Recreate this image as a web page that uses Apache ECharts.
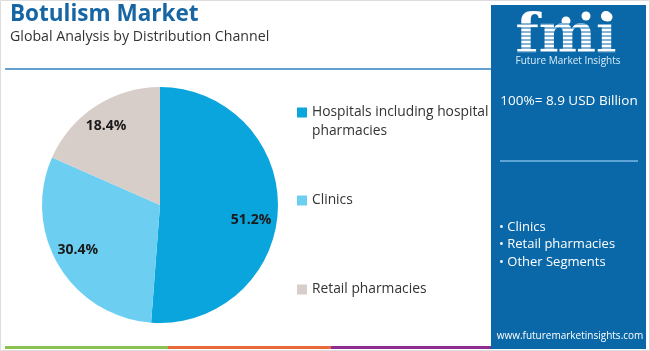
<!DOCTYPE html>
<html><head><meta charset="utf-8">
<script src="https://cdn.jsdelivr.net/npm/echarts@6/dist/echarts.min.js"></script>
<style>html,body{margin:0;padding:0;background:#fff}#c{width:650px;height:351px}</style>
</head><body><div id="c"></div>
<script>
var categories = ['Hospitals including hospital\npharmacies', 'Clinics', 'Retail pharmacies'];
var values = [51.2, 30.4, 18.4];
var colors = ['#0ba5dd', '#6ccff2', '#d7cdc9'];
var panelBullets = ['• Clinics', '• Retail pharmacies', '• Other Segments'];
var totalText = '100%= 8.9 USD Billion';

var labelOffsets = [[29, 13], [-29, 13], [-20, -27]];
var legendTops = [98, 186, 275];
var chart = echarts.init(document.getElementById('c'));
var graphics = [
  {type:'rect', shape:{x:0.5,y:0.5,width:649,height:350}, style:{fill:'none', stroke:'#dddddd', lineWidth:1}, silent:true},
  {type:'text', left:10, top:3, style:{text:'Botulism Market', font:'bold 22.5px "Open Sans", sans-serif', fill:'#1766a3'}},
  {type:'text', left:10, top:30, style:{text:'Global Analysis by Distribution Channel', font:'14.2px "Open Sans", sans-serif', fill:'#333333'}},
  {type:'line', shape:{x1:5,y1:69,x2:491,y2:69}, style:{stroke:'#2f7fbf', lineWidth:1.5}},
  {type:'rect', shape:{x:5,y:346,width:163,height:3}, style:{fill:'#8cc152'}},
  {type:'rect', shape:{x:168,y:346,width:163,height:3}, style:{fill:'#ea6a3b'}},
  {type:'rect', shape:{x:331,y:346,width:163,height:3}, style:{fill:'#8e2d8f'}},
  {type:'rect', shape:{x:491,y:5,width:155,height:344}, style:{fill:'#0b68a8'}},
  {type:'text', x:566, y:38, style:{text:'fmi', font:'bold 54px "DejaVu Serif", serif', fill:'#ffffff', align:'center', verticalAlign:'middle'}},
  {type:'circle', shape:{cx:566,cy:21,r:4.5}, style:{fill:'#ffffff'}},
  {type:'circle', shape:{cx:586,cy:16,r:4.5}, style:{fill:'#ffffff'}},
  {type:'circle', shape:{cx:608,cy:17,r:4.5}, style:{fill:'#ffffff'}},
  {type:'text', x:568, y:61, style:{text:'Future Market Insights', font:'10px "Open Sans", sans-serif', fill:'#d8ecf8', align:'center', verticalAlign:'middle'}},
  {type:'text', x:569, y:101.5, style:{text:totalText, font:'13.5px "Open Sans", sans-serif', fill:'#ffffff', align:'center', verticalAlign:'middle'}},
  {type:'line', shape:{x1:500,y1:161,x2:638,y2:161}, style:{stroke:'#7db9e6', lineWidth:1.5}},
  {type:'text', x:570, y:336, style:{text:'www.futuremarketinsights.com', font:'10px "Open Sans", sans-serif', fill:'#ffffff', align:'center', verticalAlign:'middle'}}
];
for (var sy = 24; sy < 56; sy += 4) {
  graphics.push({type:'line', shape:{x1:505,y1:sy,x2:630,y2:sy}, style:{stroke:'#0b68a8', lineWidth:1}});
}
panelBullets.forEach(function(t, i){
  graphics.push({type:'text', x:499, y:227 + i*17.5, style:{text:t, font:'13px "Open Sans", sans-serif', fill:'#ffffff', verticalAlign:'middle'}});
});
var topIcon = 'path://M0,0L10,0L10,10L0,10Z M0,29L0.01,29L0,29Z';
var legends = categories.map(function(n, i){
  return {
    orient:'vertical', left:292, top:legendTops[i], itemWidth:10, itemHeight: i === 0 ? 29 : 10,
    itemGap:0, icon: i === 0 ? topIcon : 'rect',
    textStyle:{fontSize:13.8, color:'#333333', fontFamily:'"Open Sans", sans-serif', lineHeight:19},
    data:[n]
  };
});
chart.setOption({
  animation:false,
  color: colors,
  graphic: graphics,
  legend: legends,
  series: [{
    type:'pie', center:[160,205], radius:[0,118], startAngle:90, clockwise:true,
    label:{show:true, position:'inside', formatter:'{c}%', fontSize:14, fontWeight:'bold', color:'#1a1a1a', fontFamily:'"Open Sans", sans-serif'},
    labelLine:{show:false},
    itemStyle:{borderWidth:0},
    emphasis:{disabled:true},
    data: categories.map(function(n, i){ return {name:n, value:values[i], label:{offset:labelOffsets[i]}}; })
  }]
});
</script></body></html>
